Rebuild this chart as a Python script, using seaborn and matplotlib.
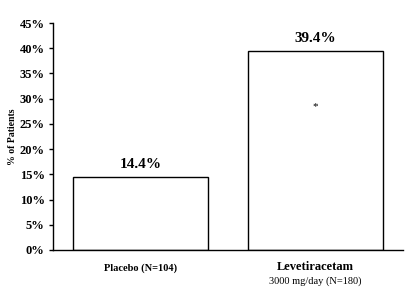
import matplotlib
matplotlib.use("Agg")
import matplotlib.pyplot as plt
import seaborn as sns
import pandas as pd
from matplotlib.ticker import FuncFormatter

categories = ["Placebo", "Levetiracetam"]
values = [14.4, 39.4]
value_labels = ["14.4%", "39.4%"]
yticks = [0, 5, 10, 15, 20, 25, 30, 35, 40, 45]

sns.set_theme(style="white")
plt.rcParams['font.family'] = ['Liberation Serif', 'DejaVu Serif']
plt.rcParams['text.color'] = 'black'
plt.rcParams['axes.labelcolor'] = 'black'
plt.rcParams['xtick.color'] = 'black'
plt.rcParams['ytick.color'] = 'black'

df = pd.DataFrame({"cat": categories, "val": values})

fig = plt.figure(figsize=(4.2, 3.0), dpi=100)
ax = fig.add_axes([0.126, 0.167, 0.834, 0.756])
sns.barplot(data=df, x="cat", y="val", ax=ax, color="white", edgecolor="black",
            linewidth=1.0, width=0.77, saturation=1)

ax.set_ylim(0, 45)
ax.set_xlim(-0.5, 1.5)
ax.set_yticks(yticks)
ax.yaxis.set_major_formatter(FuncFormatter(lambda v, p: f"{int(v)}%"))
for lab in ax.get_yticklabels():
    lab.set_fontweight("bold")
    lab.set_fontsize(9)
    lab.set_color("black")
ax.tick_params(axis="y", direction="out", length=3, width=1, color="black", pad=3, left=True)
ax.tick_params(axis="x", length=0)
ax.set_xticks([0, 1])
ax.set_xticklabels(["", ""])
ax.set_xlabel("")
ax.set_ylabel("% of Patients", fontsize=7, fontweight="bold", labelpad=2, color="black")

for s in ["top", "right"]:
    ax.spines[s].set_visible(False)
for s in ["left", "bottom"]:
    ax.spines[s].set_color("black")
    ax.spines[s].set_linewidth(1.0)

for i, (v, t) in enumerate(zip(values, value_labels)):
    ax.text(i, v + 1.3, t, ha="center", va="bottom", fontsize=11, fontweight="bold", color="black")

ax.text(1, 28.5, "*", ha="center", va="center", fontsize=8, color="black")

ax.text(0, -3.6, "Placebo (N=104)", ha="center", va="center", fontsize=7.5, fontweight="bold",
        clip_on=False, color="black")
ax.text(1, -3.3, "Levetiracetam", ha="center", va="center", fontsize=9, fontweight="bold",
        clip_on=False, color="black")
ax.text(1, -6.3, "3000 mg/day (N=180)", ha="center", va="center", fontsize=7.5,
        clip_on=False, color="black")

fig.savefig("out.png", dpi=100, facecolor="white")
